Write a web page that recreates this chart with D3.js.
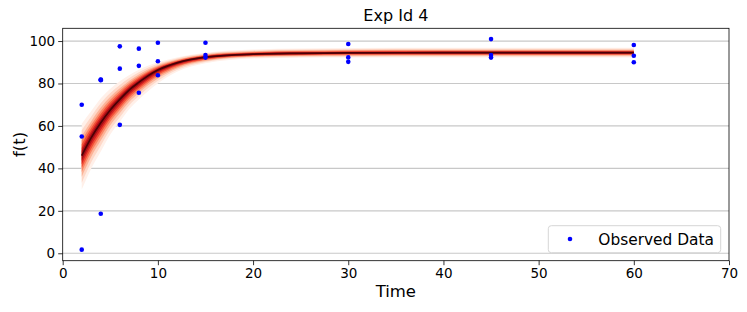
<!DOCTYPE html>
<html>
<head>
<meta charset="utf-8">
<script src="https://cdn.jsdelivr.net/npm/d3@7"></script>
<style>
  body { margin: 0; background: #fff; }
  svg text { font-family: "DejaVu Sans", sans-serif; fill: #000; }
  .axis path, .axis line { stroke: #000; stroke-width: 0.8; }
  .axis text { font-size: 13.5px; }
</style>
</head>
<body>
<div id="chart"></div>
<script>
// observed data (time, value)
var obsTime  = [2, 2, 2, 4, 4, 4, 4, 6, 6, 6, 8, 8, 8, 10, 10, 10, 15, 15, 15, 30, 30, 30, 45, 45, 45, 60, 60, 60];
var obsValue = [70.0, 55.0, 1.7, 81.9, 81.5, 18.6, 81.7, 97.5, 87.0, 60.5, 96.4, 88.3, 75.6, 99.2, 90.5, 83.9,
                99.2, 93.4, 92.2, 98.6, 92.3, 90.2, 100.9, 93.4, 92.2, 98.1, 93.1, 90.0];

// fitted curve and its band
var fitTime  = [2, 3, 4, 5, 6, 7, 8, 9, 10, 12, 15, 20, 25, 30, 40, 50, 60];
var fitMid   = [46, 54.5, 61.5, 67.5, 72.5, 77, 80.5, 83.7, 86.3, 89.7, 92.4, 93.8, 94.2, 94.4, 94.5, 94.5, 94.5];
var fitLow   = [30, 40, 48, 56, 62, 68, 72.5, 76.5, 80, 85.5, 89.5, 91.8, 92.1, 92.2, 92.2, 92.2, 92.2];
var fitHigh  = [61, 67, 73, 77.5, 81, 84, 86.5, 88.5, 90, 92.3, 94.5, 96, 96.5, 96.7, 96.8, 96.8, 96.8];

var xTicks = [0, 10, 20, 30, 40, 50, 60, 70];
var yTicks = [0, 20, 40, 60, 80, 100];

var svgWidth = 747, svgHeight = 312;
var margin = { top: 28.3, right: 18, bottom: 51.3, left: 62.7 };
var width = svgWidth - margin.left - margin.right;
var height = svgHeight - margin.top - margin.bottom;

var svg = d3.select("#chart").append("svg")
    .attr("width", svgWidth)
    .attr("height", svgHeight);

var chartGroup = svg.append("g")
    .attr("transform", `translate(${margin.left}, ${margin.top})`);

var xScale = d3.scaleLinear().domain([0, 70]).range([0, width]);
var yScale = d3.scaleLinear().domain([-3.5, 106]).range([height, 0]);

// horizontal grid
chartGroup.append("g")
    .selectAll("line")
    .data(yTicks)
    .enter()
    .append("line")
    .attr("x1", 0)
    .attr("x2", width)
    .attr("y1", d => yScale(d))
    .attr("y2", d => yScale(d))
    .attr("stroke", "#c8c8c8")
    .attr("stroke-width", 1.2);

// band: nested layers from the outer edge toward the curve
var fitRows = fitTime.map((t, i) => ({ t: t, mid: fitMid[i], lo: fitLow[i], hi: fitHigh[i] }));
var layers = [
    { f: 1.0,  color: "#fff0e9" },
    { f: 0.8,  color: "#fed8c8" },
    { f: 0.62, color: "#fcb397" },
    { f: 0.48, color: "#fb8464" },
    { f: 0.36, color: "#f14f36" },
    { f: 0.25, color: "#d52221" },
    { f: 0.15, color: "#a50f15" }
];

layers.forEach(function(layer) {
    var area = d3.area()
        .curve(d3.curveMonotoneX)
        .x(d => xScale(d.t))
        .y0(d => yScale(d.mid - (d.mid - d.lo) * layer.f))
        .y1(d => yScale(d.mid + (d.hi - d.mid) * layer.f));
    chartGroup.append("path")
        .datum(fitRows)
        .attr("d", area)
        .attr("fill", layer.color);
});

var line = d3.line()
    .curve(d3.curveMonotoneX)
    .x(d => xScale(d.t))
    .y(d => yScale(d.mid));

chartGroup.append("path")
    .datum(fitRows)
    .attr("d", line)
    .attr("fill", "none")
    .attr("stroke", "#4a0006")
    .attr("stroke-width", 1.7);

// observed points
chartGroup.selectAll("circle.obs")
    .data(obsTime)
    .enter()
    .append("circle")
    .attr("class", "obs")
    .attr("cx", d => xScale(d))
    .attr("cy", (d, i) => yScale(obsValue[i]))
    .attr("r", 2.3)
    .attr("fill", "#0000ff");

// axes
var bottomAxis = d3.axisBottom(xScale).tickValues(xTicks).tickSize(4.5).tickPadding(3.5);
var leftAxis = d3.axisLeft(yScale).tickValues(yTicks).tickSize(4.5).tickPadding(3);

chartGroup.append("g")
    .attr("class", "axis")
    .attr("transform", `translate(0, ${height})`)
    .call(bottomAxis)
    .call(g => g.select(".domain").remove());

chartGroup.append("g")
    .attr("class", "axis")
    .call(leftAxis)
    .call(g => g.select(".domain").remove());

// frame
chartGroup.append("rect")
    .attr("width", width)
    .attr("height", height)
    .attr("fill", "none")
    .attr("stroke", "#000")
    .attr("stroke-width", 0.8);

// title and axis labels
svg.append("text")
    .attr("x", margin.left + width / 2)
    .attr("y", 21)
    .attr("text-anchor", "middle")
    .style("font-size", "16px")
    .text("Exp Id 4");

svg.append("text")
    .attr("x", margin.left + width / 2)
    .attr("y", 297)
    .attr("text-anchor", "middle")
    .style("font-size", "16.5px")
    .text("Time");

svg.append("text")
    .attr("transform", `translate(25, ${margin.top + height / 2}) rotate(-90)`)
    .attr("text-anchor", "middle")
    .style("font-size", "16.5px")
    .text("f(t)");

// legend
var legend = svg.append("g").attr("transform", "translate(548.3, 225.7)");
legend.append("rect")
    .attr("width", 172.4)
    .attr("height", 27)
    .attr("rx", 3)
    .attr("fill", "#fff")
    .attr("fill-opacity", 0.8)
    .attr("stroke", "#d6d6d6")
    .attr("stroke-width", 1);
legend.append("circle")
    .attr("cx", 21.7)
    .attr("cy", 13.3)
    .attr("r", 2.3)
    .attr("fill", "#0000ff");
legend.append("text")
    .attr("x", 50)
    .attr("y", 19)
    .style("font-size", "15.4px")
    .text("Observed Data");
</script>
</body>
</html>
